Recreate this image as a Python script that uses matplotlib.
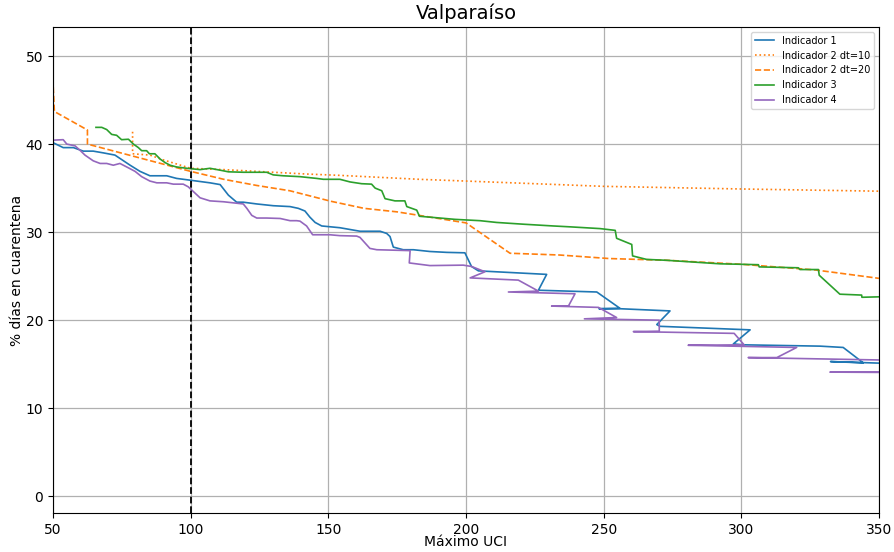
import matplotlib
matplotlib.use("Agg")
import matplotlib.pyplot as plt

# Indicador 1
x1 = [50.4, 53.7, 57.4, 61.0, 64.6, 68.3, 72.5, 78.0, 81.6, 85.2, 91.3, 94.9, 99.8,
      107.0, 110.7, 113.7, 116.7, 119.1, 124.0, 130.0, 136.1, 139.1, 141.5, 143.3,
      145.2, 147.6, 154.2, 161.5, 168.8, 171.2, 172.4, 173.6, 177.2, 180.9, 186.9,
      193.0, 199.6, 202.0, 204.5, 229.3, 226.3, 247.5, 255.9, 248.3, 255.9, 274.1,
      269.3, 270.5, 303.2, 297.1, 300.7, 328.6, 337.0, 344.3, 332.4, 352.0]
y1 = [40.1, 39.6, 39.6, 39.2, 39.2, 39.0, 38.75, 37.6, 36.9, 36.4, 36.4, 36.1, 35.9,
      35.6, 35.4, 34.2, 33.4, 33.4, 33.2, 33.0, 32.9, 32.7, 32.4, 31.7,
      31.1, 30.7, 30.5, 30.1, 30.1, 29.85, 29.5, 28.3, 28.0, 28.0, 27.8,
      27.7, 27.65, 26.1, 25.6, 25.2, 23.4, 23.2, 21.35, 21.3, 21.3, 21.05,
      19.5, 19.3, 18.9, 17.3, 17.2, 17.05, 16.9, 15.15, 15.3, 15.1]

# Indicador 2 dt=10
x2a = [78.9, 78.9, 85.2, 90.1, 100.0, 112.0, 130.0, 142.0, 154.0, 183.0, 200.0,
       250.0, 300.0, 350.0]
y2a = [41.4, 38.9, 38.75, 38.2, 37.25, 37.1, 36.8, 36.6, 36.45, 36.0, 35.8,
       35.2, 34.9, 34.65]

# Indicador 2 dt=20
x2b = [50.0, 50.0, 50.5, 62.5, 62.5, 100.0, 112.0, 124.0, 136.0, 151.0, 163.0,
       175.0, 187.0, 200.0, 216.0, 234.0, 252.0, 273.0, 300.0, 327.0, 350.0]
y2b = [50.5, 47.0, 43.7, 41.6, 40.0, 36.9, 36.0, 35.3, 34.7, 33.5, 32.7,
       32.3, 31.7, 31.05, 27.6, 27.4, 27.0, 26.8, 26.35, 25.7, 24.75]

# Indicador 3
x3 = [65.6, 67.7, 69.5, 71.3, 73.1, 74.9, 77.4, 79.2, 81.0, 82.2, 84.0, 85.0, 87.0,
      88.9, 90.7, 92.5, 94.9, 98.6, 103.4, 107.0, 111.3, 113.7, 119.1, 127.6, 130.0,
      133.6, 139.7, 145.8, 148.2, 154.2, 157.9, 162.1, 165.7, 167.0, 169.4, 170.6,
      174.2, 177.8, 178.5, 182.1, 183.1, 186.9, 196.0, 205.1, 211.1, 220.8, 231.7,
      237.8, 248.7, 254.2, 254.7, 260.2, 260.5, 265.6, 272.9, 292.3, 306.2, 306.5,
      320.7, 321.3, 328.0, 328.3, 335.8, 343.7, 343.8, 350.0]
y3 = [41.9, 41.9, 41.65, 41.1, 41.0, 40.5, 40.55, 40.0, 39.6, 39.25, 39.25, 38.9, 38.9,
      38.3, 37.9, 37.6, 37.4, 37.25, 37.1, 37.25, 37.0, 36.85, 36.8, 36.8, 36.5,
      36.4, 36.3, 36.1, 36.0, 36.0, 35.7, 35.5, 35.45, 35.0, 34.7, 33.8,
      33.55, 33.55, 32.9, 32.5, 31.8, 31.7, 31.45, 31.3, 31.1, 30.9, 30.7,
      30.6, 30.4, 30.2, 29.3, 28.6, 27.3, 26.9, 26.8, 26.4, 26.3, 26.05,
      25.95, 25.75, 25.75, 25.1, 22.95, 22.85, 22.6, 22.65]

# Indicador 4
x4 = [50.4, 53.7, 55.0, 58.0, 59.8, 61.6, 64.6, 67.1, 69.5, 71.9, 74.3, 77.4, 79.8,
      82.2, 85.2, 87.7, 91.3, 93.7, 97.3, 99.1, 101.0, 103.4, 107.0, 111.9, 119.1,
      120.4, 122.2, 124.0, 127.6, 132.5, 136.1, 138.5, 139.7, 142.1, 144.3, 150.6,
      154.2, 160.3, 161.5, 165.1, 167.6, 179.7, 179.4, 186.9, 199.0, 202.0, 206.9,
      201.5, 219.0, 226.3, 215.4, 239.6, 237.2, 231.1, 248.1, 254.7, 243.0, 270.2,
      270.2, 260.8, 297.4, 301.0, 280.7, 320.1, 312.9, 302.5, 355.0, 353.0, 332.2,
      360.0]
y4 = [40.45, 40.5, 40.0, 39.8, 39.3, 38.75, 38.1, 37.8, 37.8, 37.6, 37.8, 37.3, 36.9,
      36.3, 35.8, 35.6, 35.6, 35.45, 35.45, 35.15, 34.6, 33.9, 33.55, 33.45, 33.2,
      32.7, 31.9, 31.6, 31.6, 31.55, 31.3, 31.3, 31.25, 30.7, 29.7, 29.7,
      29.6, 29.55, 29.4, 28.15, 28.0, 27.9, 26.5, 26.2, 26.25, 26.1, 25.5,
      24.8, 24.55, 23.3, 23.2, 23.0, 21.6, 21.6, 21.45, 20.3, 20.15, 20.0,
      18.75, 18.7, 18.5, 17.2, 17.15, 16.9, 15.75, 15.75, 15.45, 14.1, 14.1,
      14.05]

fig = plt.figure(figsize=(8.94, 5.52), dpi=100)
ax = fig.add_axes([0.0593, 0.0707, 0.9239, 0.8804])

lw = 1.2
ax.plot(x1, y1, color="#1f77b4", lw=lw, label="Indicador 1")
ax.plot(x2a, y2a, color="#ff7f0e", lw=lw, ls=":", label="Indicador 2 dt=10")
ax.plot(x2b, y2b, color="#ff7f0e", lw=lw, ls="--", label="Indicador 2 dt=20")
ax.plot(x3, y3, color="#2ca02c", lw=lw, label="Indicador 3")
ax.plot(x4, y4, color="#9467bd", lw=lw, label="Indicador 4")
ax.axvline(100, color="black", ls="--", lw=1.3)

ax.set_xlim(50, 350)
ax.set_ylim(-1.9, 53.3)
ax.set_yticks([0, 10, 20, 30, 40, 50])
ax.grid(True, color="#b0b0b0", lw=0.9)
ax.set_title("Valparaíso", fontsize=14)
ax.set_xlabel("Máximo UCI", fontsize=10, labelpad=-1)
ax.set_ylabel("% días en cuarentena", fontsize=10, labelpad=1)
ax.legend(loc="upper right", fontsize=7)

fig.savefig("out.png", dpi=100)
